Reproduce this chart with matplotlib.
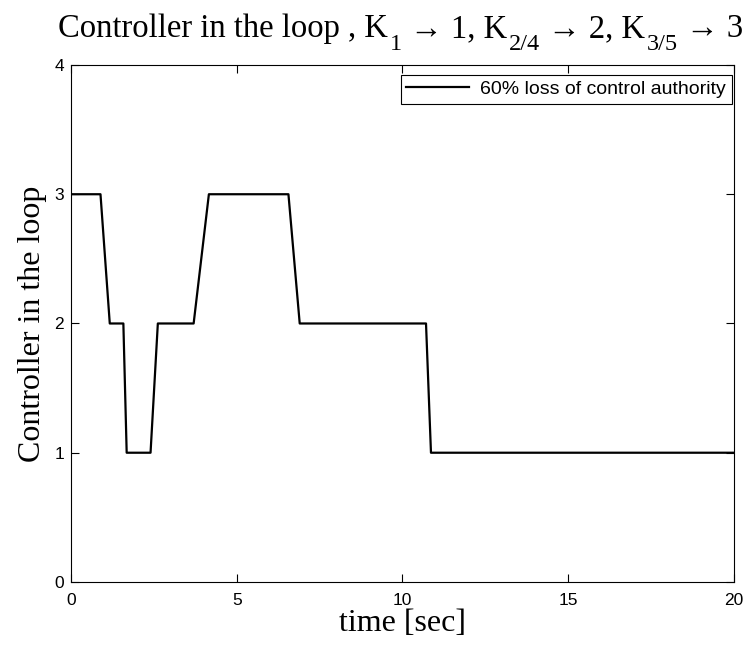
import matplotlib
matplotlib.use("Agg")
from matplotlib import pyplot as plt

# switching instants of the supervisor (sec) and active controller index
time_s = [0, 0.89, 1.17, 1.58, 1.68, 2.40, 2.62, 3.70, 4.16, 6.56, 6.90, 10.71, 10.86, 20]
controller = [3, 3, 2, 2, 1, 1, 2, 2, 3, 3, 2, 2, 1, 1]
series_label = "60% loss of control authority"

x_ticks = [0, 5, 10, 15, 20]
y_ticks = [0, 1, 2, 3, 4]

# title pieces: (text, is_subscript)
title_parts = [("Controller in the loop , K", False), ("1", True),
               (" \u2192 1, K", False), ("2/4", True),
               (" \u2192 2, K", False), ("3/5", True),
               (" \u2192 3", False)]

serif = ['Liberation Serif', 'DejaVu Serif']
sans = ['Liberation Sans', 'DejaVu Sans']

W, H = 752, 648
fig = plt.figure(figsize=(W / 100, H / 100), dpi=100)
ax = fig.add_axes([0.0944, 0.1019, 0.8816, 0.7978])

ax.plot(time_s, controller, color='black', linewidth=1.6, label=series_label)

ax.set_xlim(0, 20)
ax.set_ylim(0, 4)
ax.set_xticks(x_ticks)
ax.set_yticks(y_ticks)
ax.tick_params(direction='in', top=True, right=True, length=6, labelsize=12.5)
ax.tick_params(axis='x', pad=8)
ax.tick_params(axis='y', pad=5)
for lbl in ax.get_xticklabels() + ax.get_yticklabels():
    lbl.set_family(sans)

ax.set_xlabel("time [sec]", family=serif, fontsize=23, labelpad=1)
ax.set_ylabel("Controller in the loop", family=serif, fontsize=23, labelpad=5)

# MATLAB-style title with dropped subscripts, placed piece by piece
renderer = fig.canvas.get_renderer()
x_px = 58
baseline = H - 37
for text, is_sub in title_parts:
    if is_sub:
        x_px += 2
    t = fig.text(x_px / W, (baseline - (13 if is_sub else 0)) / H, text,
                 family=serif, fontsize=17.5 if is_sub else 23.5,
                 va='baseline', ha='left')
    x_px = t.get_window_extent(renderer).x1

leg = ax.legend(loc='upper right', bbox_to_anchor=(0.997, 0.981),
                prop={'family': sans, 'size': 14},
                fancybox=False, edgecolor='black', framealpha=1,
                handlelength=3.2, handletextpad=0.6, borderaxespad=0,
                borderpad=0.3)
leg.get_frame().set_linewidth(0.8)

fig.savefig("out.png", dpi=100)
